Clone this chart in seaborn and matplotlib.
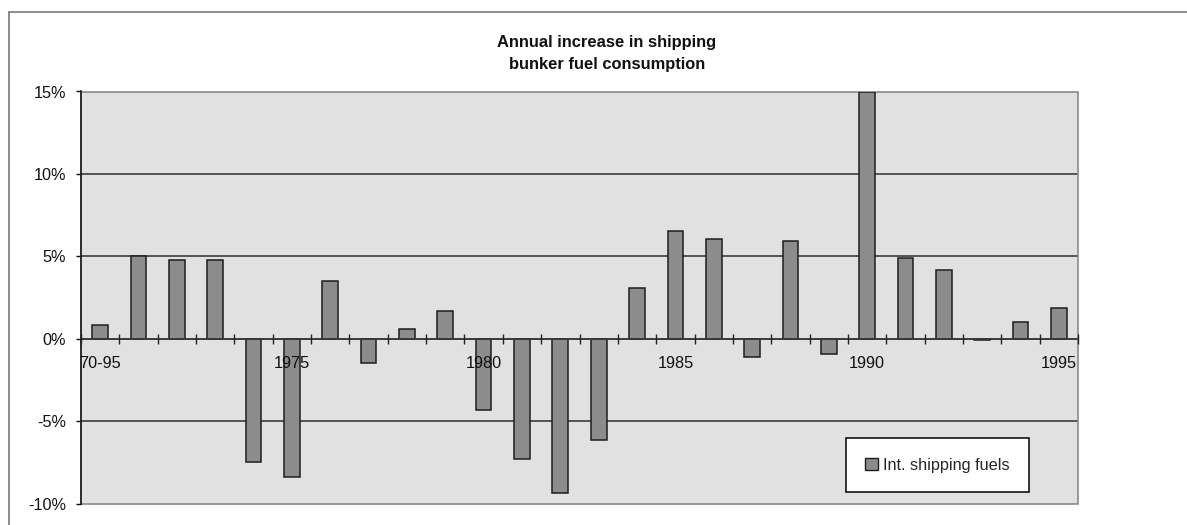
import matplotlib
matplotlib.use("Agg")
import matplotlib.pyplot as plt
import seaborn as sns
import pandas as pd
from matplotlib.lines import Line2D
from matplotlib.patches import Patch, Rectangle
from matplotlib.ticker import FixedLocator

# ---- data ----
categories = ["70-95", "1971", "1972", "1973", "1974", "1975", "1976", "1977", "1978",
              "1979", "1980", "1981", "1982", "1983", "1984", "1985", "1986", "1987",
              "1988", "1989", "1990", "1991", "1992", "1993", "1994", "1995"]
values = [0.83, 4.99, 4.77, 4.75, -7.48, -8.39, 3.50, -1.47, 0.61,
          1.66, -4.32, -7.28, -9.36, -6.12, 3.09, 6.55, 6.02, -1.13,
          5.92, -0.93, 14.96, 4.87, 4.17, -0.06, 1.03, 1.86]
xtick_labels = ["70-95", "1975", "1980", "1985", "1990", "1995"]
ytick_values = [-10, -5, 0, 5, 10, 15]
ytick_labels = ["-10%", "-5%", "0%", "5%", "10%", "15%"]
series_name = "Int. shipping fuels"
title = "Annual increase in shipping\nbunker fuel consumption"

W, H = 1187, 525
sns.set_theme(style="white")
plt.rcParams['font.family'] = ['Liberation Sans', 'DejaVu Sans']
FS = 11.7

fig = plt.figure(figsize=(W / 100, H / 100), dpi=100)
fig.patch.set_facecolor('white')
ax = fig.add_axes([81 / W, 1 - 503.5 / H, (1078 - 81) / W, (503.5 - 91.5) / H])
ax.set_facecolor('#e1e1e1')

# gridlines behind the bars
for v in ytick_values[1:-1]:
    ax.axhline(v, color='#3c3c3c', lw=1.2, zorder=1)

df = pd.DataFrame({"year": categories, "value": values})
sns.barplot(data=df, x="year", y="value", order=categories, color="#8c8c8c",
            saturation=1, width=0.41, edgecolor="#1e1e1e", linewidth=1.1, ax=ax, zorder=2)

ax.set_xlim(-0.5, len(categories) - 0.5)
ax.set_ylim(ytick_values[0], ytick_values[-1])
ax.set_xlabel("")
ax.set_ylabel("")
ax.grid(False)
ax.set_axisbelow(False)

ax.set_yticks(ytick_values)
ax.set_yticklabels(ytick_labels)
ax.set_xticks([categories.index(l) for l in xtick_labels])
ax.set_xticklabels(xtick_labels)
ax.xaxis.set_minor_locator(FixedLocator([i - 0.5 for i in range(len(categories) + 1)]))

ax.tick_params(axis='x', which='major', bottom=True, length=0, pad=12.5, labelsize=FS, labelcolor='#111111')
ax.tick_params(axis='x', which='minor', bottom=True, direction='inout', length=7.5, width=1.0, color='#222222')
ax.tick_params(axis='y', which='major', direction='out', length=3.6, width=1.0, color='#111111',
               pad=7, labelsize=FS, labelcolor='#111111', left=True)

ax.spines['bottom'].set_position(('data', 0))
ax.spines['bottom'].set_color('#3a3a3a')
ax.spines['bottom'].set_linewidth(1.2)
ax.spines['left'].set_color('#111111')
ax.spines['left'].set_linewidth(1.1)
for s in ['top', 'right']:
    ax.spines[s].set_visible(False)

# plot-area border (gray)
ax.add_patch(Rectangle((0, 0), 1, 1, transform=ax.transAxes, fill=False,
                       edgecolor='#8a8a8a', lw=1.2, zorder=1.5, clip_on=False))

# legend
leg = ax.legend(handles=[Patch(facecolor="#8c8c8c", edgecolor="#1e1e1e", lw=1.0, label=series_name)],
                loc='center', bbox_to_anchor=(937.7 / W, 1 - 465.3 / H), bbox_transform=fig.transFigure,
                frameon=True, fancybox=False, framealpha=1, edgecolor='black', facecolor='white',
                borderpad=1.2, handlelength=0.75, handleheight=0.75, handletextpad=0.35, fontsize=FS)
leg.get_frame().set_linewidth(1.1)
leg.set_zorder(10)

# title
fig.text(607 / W, 1 - 35 / H, title, ha='center', va='top', fontweight='bold',
         fontsize=FS + 0.2, linespacing=1.55, color='#111111')

# outer chart border (top and left)
fig.add_artist(Line2D([9 / W, 1], [1 - 11.5 / H] * 2, transform=fig.transFigure, color='#6e6e6e', lw=1.1))
fig.add_artist(Line2D([9 / W] * 2, [0, 1 - 11.5 / H], transform=fig.transFigure, color='#6e6e6e', lw=1.1))

fig.savefig("out.png", dpi=100, facecolor='white')
